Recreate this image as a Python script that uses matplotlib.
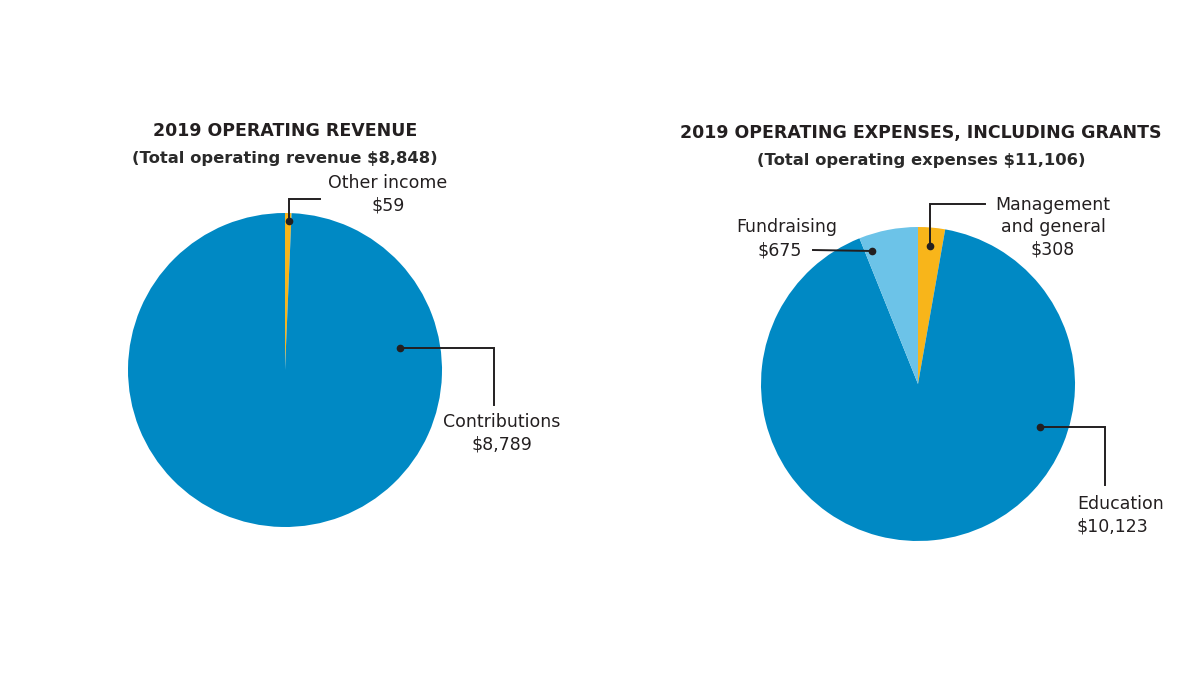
import matplotlib.pyplot as plt

# data (in thousands of dollars)
rev_labels = ["Other income", "Contributions"]
rev_values = [59, 8789]
exp_labels = ["Management\nand general", "Education", "Fundraising"]
exp_values = [308, 10123, 675]

BLUE = "#0089C4"
LIGHT = "#6CC3E8"
YELLOW = "#F8B51A"
INK = "#231F20"

H = 675
fig = plt.figure(figsize=(12, 6.75), dpi=100)
ax = fig.add_axes([0, 0, 1, 1])

def Y(y):
    return H - y

ax.pie(rev_values, colors=[YELLOW, BLUE], startangle=90, counterclock=False,
       center=(285, Y(370)), radius=157, wedgeprops=dict(linewidth=0))
ax.pie(exp_values, colors=[YELLOW, BLUE, LIGHT], startangle=90, counterclock=False,
       center=(918, Y(384)), radius=157, wedgeprops=dict(linewidth=0))

ax.set_xlim(0, 1200)
ax.set_ylim(0, H)
ax.set_aspect("equal")
ax.axis("off")

fam = "DejaVu Sans"
# titles
ax.text(285, Y(131), "2019 OPERATING REVENUE", ha="center", va="center",
        fontsize=12.5, fontweight="bold", color=INK, family=fam)
ax.text(285, Y(159), "(Total operating revenue ${:,})".format(sum(rev_values)),
        ha="center", va="center", fontsize=11.8, fontweight="bold", color="#2a2a2a", family=fam)
ax.text(921, Y(133), "2019 OPERATING EXPENSES, INCLUDING GRANTS", ha="center", va="center",
        fontsize=12.5, fontweight="bold", color=INK, family=fam)
ax.text(921, Y(161), "(Total operating expenses ${:,})".format(sum(exp_values)),
        ha="center", va="center", fontsize=11.8, fontweight="bold", color="#2a2a2a", family=fam)

def leader(pts):
    xs = [p[0] for p in pts]
    ys = [Y(p[1]) for p in pts]
    ax.plot(xs, ys, color=INK, lw=1.4, solid_joinstyle="miter")
    ax.plot(xs[0], ys[0], "o", color=INK, ms=4.5)

def label(x, y, name, value, ha="center"):
    ax.text(x, Y(y), name + "\n${:,}".format(value), ha=ha, va="center",
            fontsize=12.5, color=INK, family=fam, linespacing=1.3)

# revenue labels
leader([(289, 221), (289, 199), (320, 199)])
label(388, 194, rev_labels[0], rev_values[0])
leader([(400, 348), (494, 348), (494, 405)])
label(502, 433, rev_labels[1], rev_values[1])

# expense labels
leader([(930, 246), (930, 204), (985, 204)])
label(1053, 227, exp_labels[0], exp_values[0])
leader([(872, 251), (813, 250)])
ax.text(787, Y(227), exp_labels[2], ha="center", va="center", fontsize=12.5, color=INK, family=fam)
ax.text(780, Y(250), "${:,}".format(exp_values[2]), ha="center", va="center",
        fontsize=12.5, color=INK, family=fam)
leader([(1040, 427), (1105, 427), (1105, 485)])
label(1077, 515, exp_labels[1], exp_values[1], ha="left")

fig.savefig("out.png", dpi=100)
